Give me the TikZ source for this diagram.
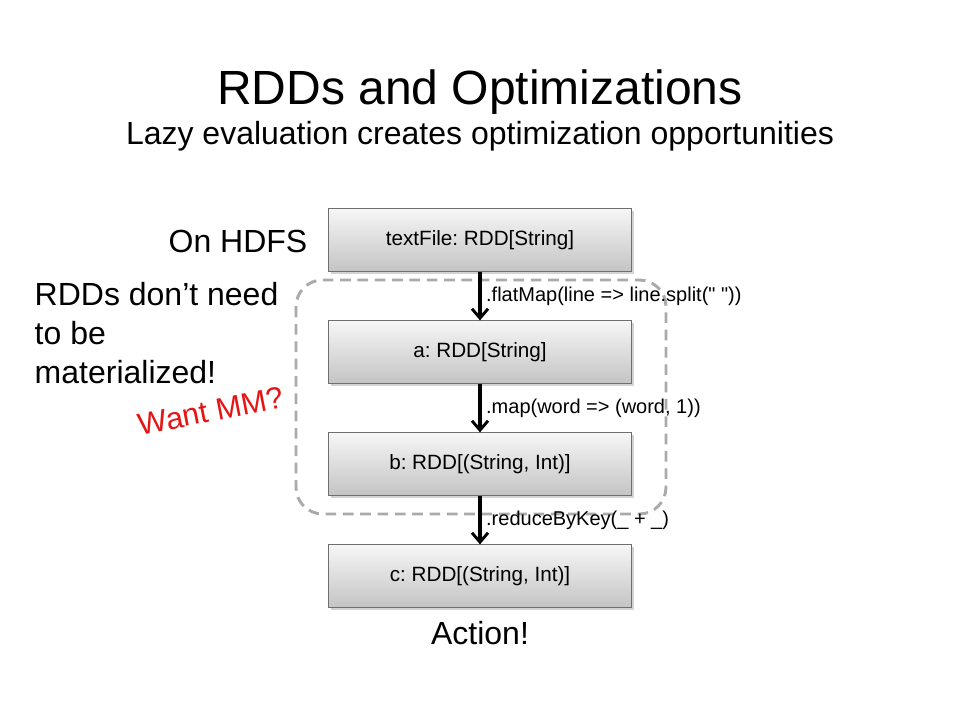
\documentclass[tikz,border=0pt]{standalone}
\usepackage{fontspec}
\setmainfont{Liberation Sans}
\usetikzlibrary{shadows,arrows.meta}
\definecolor{boxtop}{RGB}{246,246,246}
\definecolor{boxbot}{RGB}{196,196,196}
\definecolor{boxline}{RGB}{110,110,110}
\definecolor{dashgray}{RGB}{170,170,170}
\definecolor{wantred}{RGB}{230,20,20}
\tikzset{
  rddbox/.style={draw=boxline, top color=boxtop, bottom color=boxbot,
    minimum width=227pt, minimum height=47pt, font=\fontsize{15.5}{18}\selectfont,
    drop shadow={shadow xshift=2pt, shadow yshift=-2pt, opacity=0.35}},
  step arrow/.style={-{Straight Barb[length=7pt,width=12pt,line width=2.2pt]}, line width=2.6pt},
  oplabel/.style={anchor=west, font=\fontsize{15}{18}\selectfont},
  note/.style={font=\fontsize{24}{29}\selectfont},
}
\begin{document}
\frenchspacing
\begin{tikzpicture}[x=0.75pt, y=-0.75pt]
  \useasboundingbox (0,0) rectangle (960,720);
  % Title
  \node (title) at (480,92) {\fontsize{36}{40}\selectfont RDDs and Optimizations};
  \node (subtitle) at (480,136) {\fontsize{24}{28}\selectfont Lazy evaluation creates optimization opportunities};
  % Region that need not be materialized
  \draw[dashgray, line width=2.2pt, dash pattern=on 8pt off 5pt, rounded corners=20pt]
    (296,280) rectangle (666,514);
  % RDD chain
  \node[rddbox] (textFile) at (480,240) {textFile: RDD[String]};
  \node[rddbox] (a) at (480,352) {a: RDD[String]};
  \node[rddbox] (b) at (480,464) {b: RDD[(String, Int)]};
  \node[rddbox] (c) at (480,576) {c: RDD[(String, Int)]};
  % Transformations
  \foreach \from/\to/\op in {textFile/a/{.flatMap(line => line.split(\textquotedbl\ \textquotedbl))},
                             a/b/{.map(word => (word, 1))},
                             b/c/{.reduceByKey(\_ + \_)}} {
    \draw[step arrow] (\from.south) -- (\to.north)
      node[oplabel, pos=0.5] {\op};
  }
  % Side notes
  \node[note, anchor=east] (hdfs) at (312,241) {On HDFS};
  \node[note, anchor=north west, align=left] (lazy) at (30,278)
    {RDDs don’t need\\to be\\materialized!};
  \node[note, wantred, rotate=11, font=\fontsize{23}{28}\selectfont] (want) at (211,411) {Want MM?};
  \node[note] (action) at (480,633) {Action!};
\end{tikzpicture}
\end{document}
